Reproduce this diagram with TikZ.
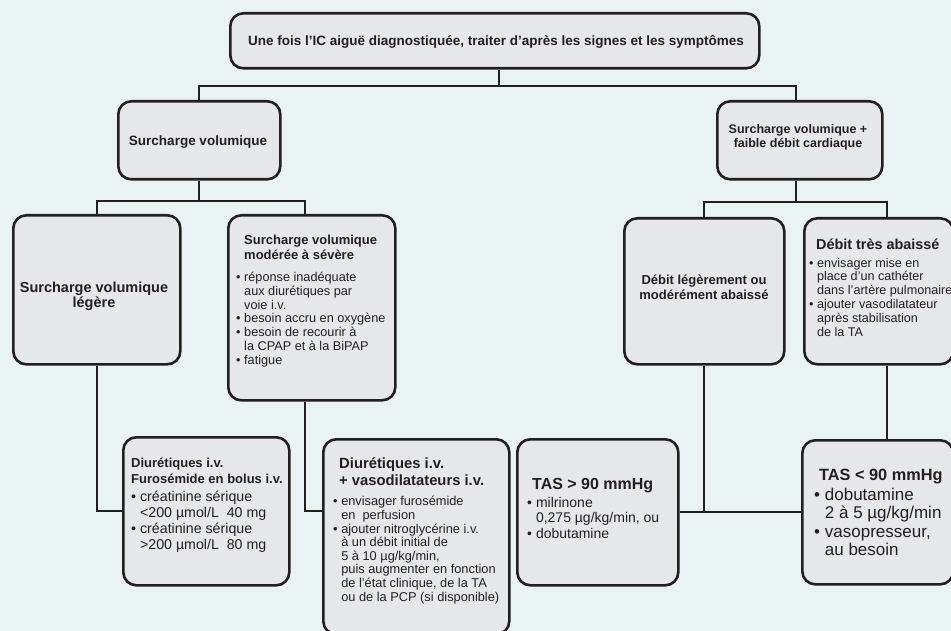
\documentclass[tikz,border=0pt]{standalone}
\usepackage{fontspec}
\setmainfont{Liberation Sans}
\definecolor{bg}{HTML}{EAF3F3}
\definecolor{boxfill}{HTML}{E6E7E9}
\definecolor{ink}{HTML}{231F20}
\newcommand{\bu}{\makebox[0.63em][l]{•}}
\newcommand{\ct}{\hspace*{0.63em}}
\begin{document}
\begin{tikzpicture}[x=1pt,y=-1pt,
  box/.style={draw=ink, fill=boxfill, line width=2.6pt, rounded corners=13pt, inner sep=0pt, anchor=north west},
  conn/.style={draw=ink, line width=2.2pt},
  txt/.style={text=ink, inner sep=0pt, align=left, anchor=base west},
  ctxt/.style={text=ink, inner sep=0pt, align=center, anchor=base}]
\useasboundingbox (0,0) rectangle (951,631);
\fill[bg] (0,0) rectangle (951,631);
% boxes
\node[box, minimum width=529pt, minimum height=55pt] (top) at (229,12) {};
\node[box, minimum width=162pt, minimum height=78pt] (sv) at (117,100) {};
\node[box, minimum width=165pt, minimum height=78pt] (svp) at (716,100) {};
\node[box, minimum width=167pt, minimum height=149pt] (leg) at (12,214) {};
\node[box, minimum width=167pt, minimum height=185pt] (mod) at (227,214) {};
\node[box, minimum width=160pt, minimum height=146pt] (dl) at (623,217) {};
\node[box, minimum width=149pt, minimum height=146pt] (dt) at (803,217) {};
\node[box, minimum width=166pt, minimum height=148pt] (d1) at (122,436) {};
\node[box, minimum width=186pt, minimum height=195pt] (d2) at (322,438) {};
\node[box, minimum width=161pt, minimum height=146pt] (t1) at (516,438) {};
\node[box, minimum width=151pt, minimum height=144pt] (t2) at (801,439) {};
% connectors
\coordinate (bar0) at (0,86);
\coordinate (bar1) at (0,201);
\coordinate (bar2) at (0,202);
\draw[conn] ([xshift=4.5pt]top.south) -- ([xshift=4.5pt]top.south |- bar0);
\draw[conn] (sv.north) |- ([xshift=4.5pt]top.south |- bar0) -| ([xshift=-4pt]svp.north);
\draw[conn] (sv.south) -- (sv.south |- bar1);
\draw[conn] (leg.north) |- (sv.south |- bar1) -| ([xshift=-6.5pt]mod.north);
\draw[conn] ([xshift=-4pt]svp.south) -- ([xshift=-4pt]svp.south |- bar2);
\draw[conn] (dl.north) |- ([xshift=-4pt]svp.south |- bar2) -| ([xshift=8.5pt]dt.north);
\draw[conn] (leg.south) |- (d1.west);
\draw[conn] ([xshift=-6.5pt]mod.south) |- (d2.north west |- d1.west);
\draw[conn] (t1.east) -- (t2.west |- t1.east);
\draw[conn] (dl.south) -- (dl.south |- t1.east);
\draw[conn] ([xshift=8.5pt]dt.south) -- ([xshift=8.5pt]dt.south |- t2.north);
% texts (anchor base = baseline of the LAST line)
\node[ctxt, font=\bfseries\fontsize{13.5}{16}\selectfont] (ttop) at (496,46) {Une fois l'IC aiguë diagnostiquée, traiter d’après les signes et les symptômes};
\node[ctxt, font=\bfseries\fontsize{13.5}{16}\selectfont] (tsv) at (198,146) {Surcharge volumique};
\node[ctxt, font=\bfseries\fontsize{12.5}{14}\selectfont] (tsvp) at (798,148) {Surcharge volumique +\\faible débit cardiaque};
\node[ctxt, font=\bfseries\fontsize{14.5}{16}\selectfont] (tleg) at (94,308) {Surcharge volumique\\légère};
\node[txt, font=\bfseries\fontsize{13}{15}\selectfont] (tmod) at (244,260) {Surcharge volumique\\modérée à sévère};
\node[txt, font=\fontsize{12.7}{13.8}\selectfont] (lmod) at (236,364.3) {\bu réponse inadéquate\\\ct aux diurétiques par\\\ct voie i.v.\\\bu besoin accru en oxygène\\\bu besoin de recourir à\\\ct la CPAP et à la BiPAP\\\bu fatigue};
\node[ctxt, font=\bfseries\fontsize{13}{15}\selectfont] (tdl) at (704,300) {Débit légèrement ou\\modérément abaissé};
\node[txt, font=\bfseries\fontsize{14.4}{16}\selectfont] (tdt) at (816,250) {Débit très abaissé};
\node[txt, font=\fontsize{12.6}{13.8}\selectfont] (ldt) at (809,336) {\bu envisager mise en\\\ct place d’un cathéter\\\ct dans l’artère pulmonaire\\\bu ajouter vasodilatateur\\\ct après stabilisation\\\ct de la TA};
\node[txt, font=\bfseries\fontsize{13}{16}\selectfont] (td1) at (131,483) {Diurétiques i.v.\\Furosémide en bolus i.v.};
\node[txt, font=\fontsize{14.2}{15.7}\selectfont] (ld1) at (131,549) {\bu créatinine sérique\\\ct <200 µmol/L\ \ 40 mg\\\bu créatinine sérique\\\ct >200 µmol/L\ \ 80 mg};
\node[txt, font=\bfseries\fontsize{14.8}{17}\selectfont] (td2) at (339,485) {Diurétiques i.v.\\+ vasodilatateurs i.v.};
\node[txt, font=\fontsize{12.8}{13.6}\selectfont] (ld2) at (333,601) {\bu envisager furosémide\\\ct en\ \ perfusion\\\bu ajouter nitroglycérine i.v.\\\ct à un débit initial de\\\ct 5 à 10 µg/kg/min,\\\ct puis augmenter en fonction\\\ct de l’état clinique, de la TA\\\ct ou de la PCP (si disponible)};
\node[txt, font=\bfseries\fontsize{16}{18}\selectfont] (tt1) at (532,489) {TAS > 90 mmHg};
\node[txt, font=\fontsize{14}{15.5}\selectfont] (lt1) at (527,538) {\bu milrinone\\\ct 0,275 µg/kg/min, ou\\\bu dobutamine};
\node[txt, font=\bfseries\fontsize{16.3}{18}\selectfont] (tt2) at (819,480) {TAS < 90 mmHg};
\node[txt, font=\fontsize{17}{18.5}\selectfont] (lt2) at (814,555.5) {\bu dobutamine\\\ct 2 à 5 µg/kg/min\\\bu vasopresseur,\\\ct au besoin};
\end{tikzpicture}
\end{document}
